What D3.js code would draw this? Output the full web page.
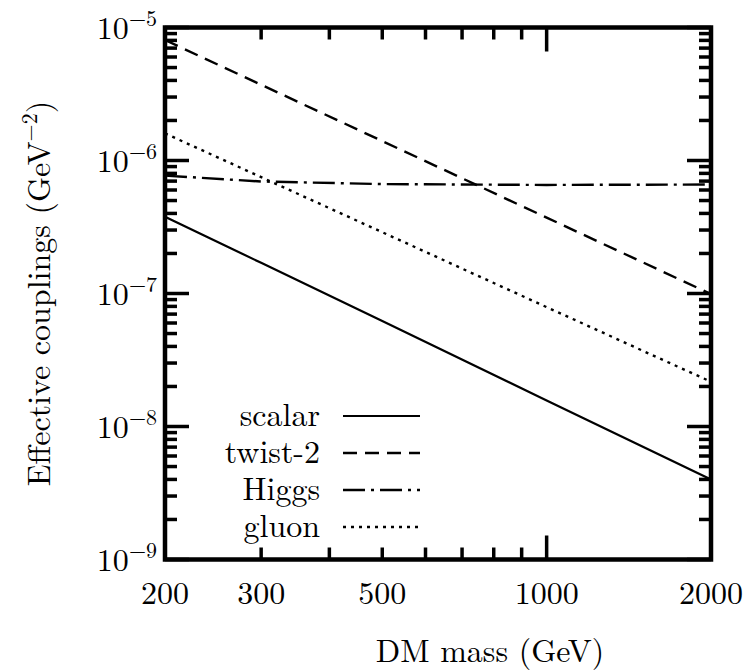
<!DOCTYPE html>
<html>
<head>
<meta charset="utf-8">
<script src="https://cdn.jsdelivr.net/npm/d3@7/dist/d3.min.js"></script>
<style>
  html, body { margin: 0; padding: 0; background: #fff; }
  svg { display: block; }
</style>
</head>
<body>
<svg id="chart" width="745" height="672"></svg>
<script>
// ---- Data ----
const masses = [200, 300, 500, 1000, 2000];            // GeV
const scalarVals = [3.78e-7, 1.70e-7, 6.2e-8, 1.57e-8, 4.0e-9];
const twist2Vals = [8.05e-6, 3.71e-6, 1.40e-6, 3.72e-7, 9.9e-8];
const higgsVals  = [7.7e-7, 6.95e-7, 6.65e-7, 6.55e-7, 6.6e-7];
const gluonVals  = [1.6e-6, 7.5e-7, 2.89e-7, 7.9e-8, 2.17e-8];
const seriesNames = ["scalar", "twist-2", "Higgs", "gluon"];
const xTickLabels = [200, 300, 500, 1000, 2000];
const yTickExponents = [-5, -6, -7, -8, -9];
const xTitle = "DM mass (GeV)";
const yTitle = "Effective couplings (GeV";

const FONT = "'Latin Modern Roman'";
const FS = 32, SUP = 22;

// ---- Layout ----
const L = 165, R = 711, T = 27.5, B = 559.5;
const svg = d3.select("#chart");
const x = d3.scaleLog().domain([200, 2000]).range([L, R]);
const y = d3.scaleLog().domain([1e-9, 1e-5]).range([B, T]);

const dashes = ["none", "14,8", "22,6,3,6", "3,5"];
const widths = [2.2, 2.4, 2.4, 2.4];
const allVals = [scalarVals, twist2Vals, higgsVals, gluonVals];

svg.append("clipPath").attr("id", "clip").append("rect")
  .attr("x", L).attr("y", T).attr("width", R - L).attr("height", B - T);

const line = d3.line().x(d => x(d[0])).y(d => y(d[1]));
allVals.forEach((vals, i) => {
  svg.append("path")
    .attr("clip-path", "url(#clip)")
    .attr("d", line(masses.map((m, j) => [m, vals[j]])))
    .attr("fill", "none").attr("stroke", "#000")
    .attr("stroke-width", widths[i])
    .attr("stroke-dasharray", dashes[i]);
});

// ticks
const tickW = 3.5, minorLen = 12, majorLen = 24;
const gT = svg.append("g");
const yMinor = [];
for (let e = -9; e < -5; e++) for (let k = 1; k <= 9; k++) yMinor.push(k * Math.pow(10, e));
yMinor.push(1e-5);
yMinor.forEach(v => {
  const major = Math.abs(Math.log10(v) - Math.round(Math.log10(v))) < 1e-9;
  const len = major ? majorLen : minorLen;
  const yy = y(v);
  gT.append("line").attr("x1", L).attr("x2", L + len).attr("y1", yy).attr("y2", yy)
    .attr("stroke", "#000").attr("stroke-width", tickW);
  gT.append("line").attr("x1", R).attr("x2", R - len).attr("y1", yy).attr("y2", yy)
    .attr("stroke", "#000").attr("stroke-width", tickW);
});
const xTicks = [200, 300, 400, 500, 600, 700, 800, 900, 1000, 2000];
xTicks.forEach(v => {
  const major = (v === 1000 || v === 2000 || v === 200);
  const len = major ? majorLen : minorLen;
  const xx = x(v);
  gT.append("line").attr("x1", xx).attr("x2", xx).attr("y1", B).attr("y2", B - len)
    .attr("stroke", "#000").attr("stroke-width", tickW);
  gT.append("line").attr("x1", xx).attr("x2", xx).attr("y1", T).attr("y2", T + len)
    .attr("stroke", "#000").attr("stroke-width", tickW);
});

svg.append("rect").attr("x", L).attr("y", T).attr("width", R - L).attr("height", B - T)
  .attr("fill", "none").attr("stroke", "#000").attr("stroke-width", 4.5);

// x tick labels
xTickLabels.forEach(v => {
  svg.append("text").attr("x", x(v)).attr("y", 604).attr("text-anchor", "middle")
    .style("font-family", FONT).attr("font-size", FS).text(v);
});
// y tick labels
yTickExponents.forEach(e => {
  const t = svg.append("text").attr("x", 157).attr("y", y(Math.pow(10, e)) + 11)
    .attr("text-anchor", "end").style("font-family", FONT).attr("font-size", FS);
  t.append("tspan").text("10");
  t.append("tspan").attr("dy", -13).attr("font-size", SUP).text("\u2212" + Math.abs(e));
});

// axis titles
svg.append("text").attr("x", 490).attr("y", 662).attr("text-anchor", "middle")
  .style("font-family", FONT).attr("font-size", FS).text(xTitle);
const yt = svg.append("text").attr("transform", "translate(50," + ((T + B) / 2) + ") rotate(-90)")
  .attr("text-anchor", "middle").style("font-family", FONT).attr("font-size", FS);
yt.append("tspan").text(yTitle);
yt.append("tspan").attr("dy", -13).attr("font-size", SUP).text("\u22122");
yt.append("tspan").attr("dy", 13).text(")");

// legend
seriesNames.forEach((name, i) => {
  const by = 426 + i * 37;
  svg.append("text").attr("x", 320).attr("y", by).attr("text-anchor", "end")
    .style("font-family", FONT).attr("font-size", FS).text(name);
  svg.append("line").attr("x1", 343).attr("x2", 420).attr("y1", by - 10).attr("y2", by - 10)
    .attr("stroke", "#000").attr("stroke-width", widths[i])
    .attr("stroke-dasharray", dashes[i]);
});
</script>
</body>
</html>
